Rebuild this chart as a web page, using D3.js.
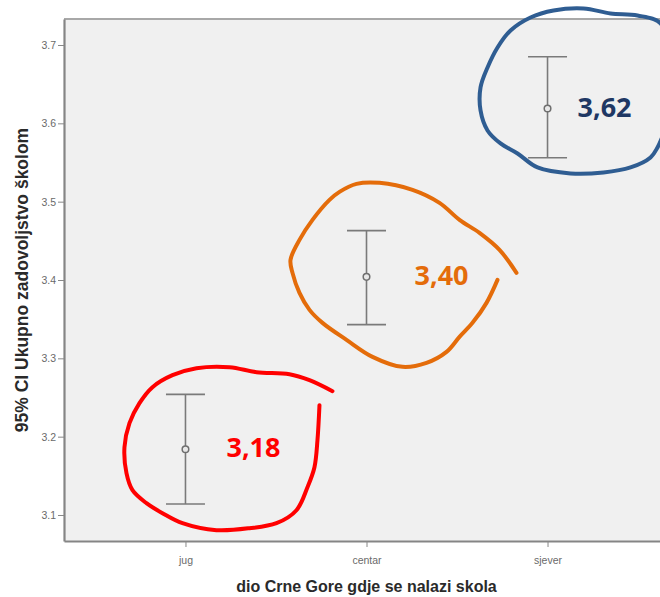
<!DOCTYPE html>
<html><head><meta charset="utf-8">
<script src="https://cdn.jsdelivr.net/npm/d3@7"></script>
<style>body{margin:0;background:#fff}svg{display:block}</style>
</head><body>
<svg id="c" width="660" height="597"></svg>
<script>
// ---- data ----
const categories = ["jug", "centar", "sjever"];
const means = [3.184, 3.404, 3.619];
const lowerCI = [3.114, 3.343, 3.556];
const upperCI = [3.254, 3.463, 3.685];
const yTicks = [3.1, 3.2, 3.3, 3.4, 3.5, 3.6, 3.7];
const annotationLabels = ["3,18", "3,40", "3,62"];
const annotationColors = ["#ff0000", "#e46c0a", "#1f3864"];
const loopColors = ["#ff0000", "#e46c0a", "#2f5d92"];
const xTitle = "dio Crne Gore gdje se nalazi skola";
const yTitle = "95% CI Ukupno zadovoljstvo školom";
// hand-drawn loops, as pixel offsets around each mean point
const loopRed = [[147,-58],[124,-69],[104,-75],[71,-77],[44,-82],[11,-81],[-13,-74],[-33,-62],[-46,-46],[-56,-26],[-61,-2],[-59,24],[-53,41],[-39,54],[-23,64],[-3,74],[31,81],[64,79],[91,74],[111,61],[122,38],[129,18],[132,-9],[134,-44]];
const loopOrange = [[150,-4],[133,-27],[113,-44],[93,-57],[73,-74],[46,-87],[13,-94],[-10,-93],[-27,-85],[-37,-77],[-54,-57],[-67,-37],[-76,-17],[-74,-4],[-67,16],[-57,33],[-44,46],[-20,63],[6,80],[36,90],[60,86],[80,75],[93,60],[106,46],[120,26],[131,3]];
const loopBlue = [[121,-48],[113,-85],[90,-93],[63,-95],[36,-100],[6,-98],[-17,-91],[-37,-78],[-50,-61],[-60,-41],[-67,-21],[-67,2],[-60,22],[-47,35],[-30,45],[-10,59],[23,65],[56,64],[83,59],[103,49],[110,39],[121,12]];
const loops = [loopRed, loopOrange, loopBlue];
const labelOffsets = [41, 48, 30];

// ---- layout ----
const svg = d3.select("#c");
const L = 64, R = 669, T = 19, B = 541;
const x = d3.scalePoint().domain(categories).range([L, R]).padding(0.671);
const y = d3.scaleLinear().domain([3.0668, 3.7332]).range([B, T]);

svg.append("rect").attr("x", L).attr("y", T).attr("width", R - L).attr("height", B - T).attr("fill", "#f0f0f0");
svg.append("line").attr("x1", L).attr("x2", R).attr("y1", T).attr("y2", T).attr("stroke", "#a8a8a8").attr("stroke-width", 2);

// axes
const yAxis = d3.axisLeft(y).tickValues(yTicks).tickFormat(d3.format(".1f")).tickSizeInner(6).tickSizeOuter(0).tickPadding(2);
const gy = svg.append("g").attr("transform", `translate(${L},0)`).call(yAxis);
const xAxis = d3.axisBottom(x).tickSizeInner(6).tickSizeOuter(0).tickPadding(10);
const gx = svg.append("g").attr("transform", `translate(0,${B})`).call(xAxis);
[gx, gy].forEach(g => {
  g.select(".domain").attr("stroke", "#858585").attr("stroke-width", 2.2);
  g.selectAll(".tick line").attr("stroke", "#888").attr("stroke-width", 1);
  g.selectAll(".tick text").attr("fill", "#6a6a6a").attr("font-family", "Liberation Sans, Arial, sans-serif").attr("font-size", 10.5);
});

// titles
svg.append("text").attr("x", x("centar")).attr("y", 592).attr("text-anchor", "middle")
  .attr("font-family", "Liberation Sans, Arial, sans-serif").attr("font-weight", "bold").attr("font-size", 16)
  .attr("fill", "#2a2a2a").text(xTitle);
svg.append("text").attr("transform", `translate(28,280) rotate(-90)`).attr("text-anchor", "middle")
  .attr("font-family", "Liberation Sans, Arial, sans-serif").attr("font-weight", "bold").attr("font-size", 17.5)
  .attr("fill", "#2a2a2a").text(yTitle);

// error bars
const eb = svg.append("g");
categories.forEach((c, i) => {
  const cx = x(c);
  eb.append("line").attr("x1", cx).attr("x2", cx).attr("y1", y(lowerCI[i])).attr("y2", y(upperCI[i]))
    .attr("stroke", "#7a7a7a").attr("stroke-width", 1.6);
  [lowerCI[i], upperCI[i]].forEach(v => {
    eb.append("line").attr("x1", cx - 19.5).attr("x2", cx + 19.5).attr("y1", y(v)).attr("y2", y(v))
      .attr("stroke", "#7a7a7a").attr("stroke-width", 1.6);
  });
  eb.append("circle").attr("cx", cx).attr("cy", y(means[i])).attr("r", 3.3)
    .attr("fill", "#e8e8e8").attr("stroke", "#6f6f6f").attr("stroke-width", 1.5);
});

// annotations
const line = d3.line().curve(d3.curveCatmullRom.alpha(0.5));
categories.forEach((c, i) => {
  const cx = x(c), cy = y(means[i]);
  svg.append("path").attr("d", line(loops[i].map(p => [cx + p[0], cy + p[1]])))
    .attr("fill", "none").attr("stroke", loopColors[i]).attr("stroke-width", 4)
    .attr("stroke-linecap", "round").attr("stroke-linejoin", "round");
  svg.append("text").attr("x", cx + labelOffsets[i]).attr("y", cy + 1).attr("dominant-baseline", "middle")
    .attr("font-family", "Open Sans, Lato, sans-serif").attr("font-weight", "bold").attr("font-size", 27)
    .attr("fill", annotationColors[i]).text(annotationLabels[i]);
});
</script>
</body></html>
